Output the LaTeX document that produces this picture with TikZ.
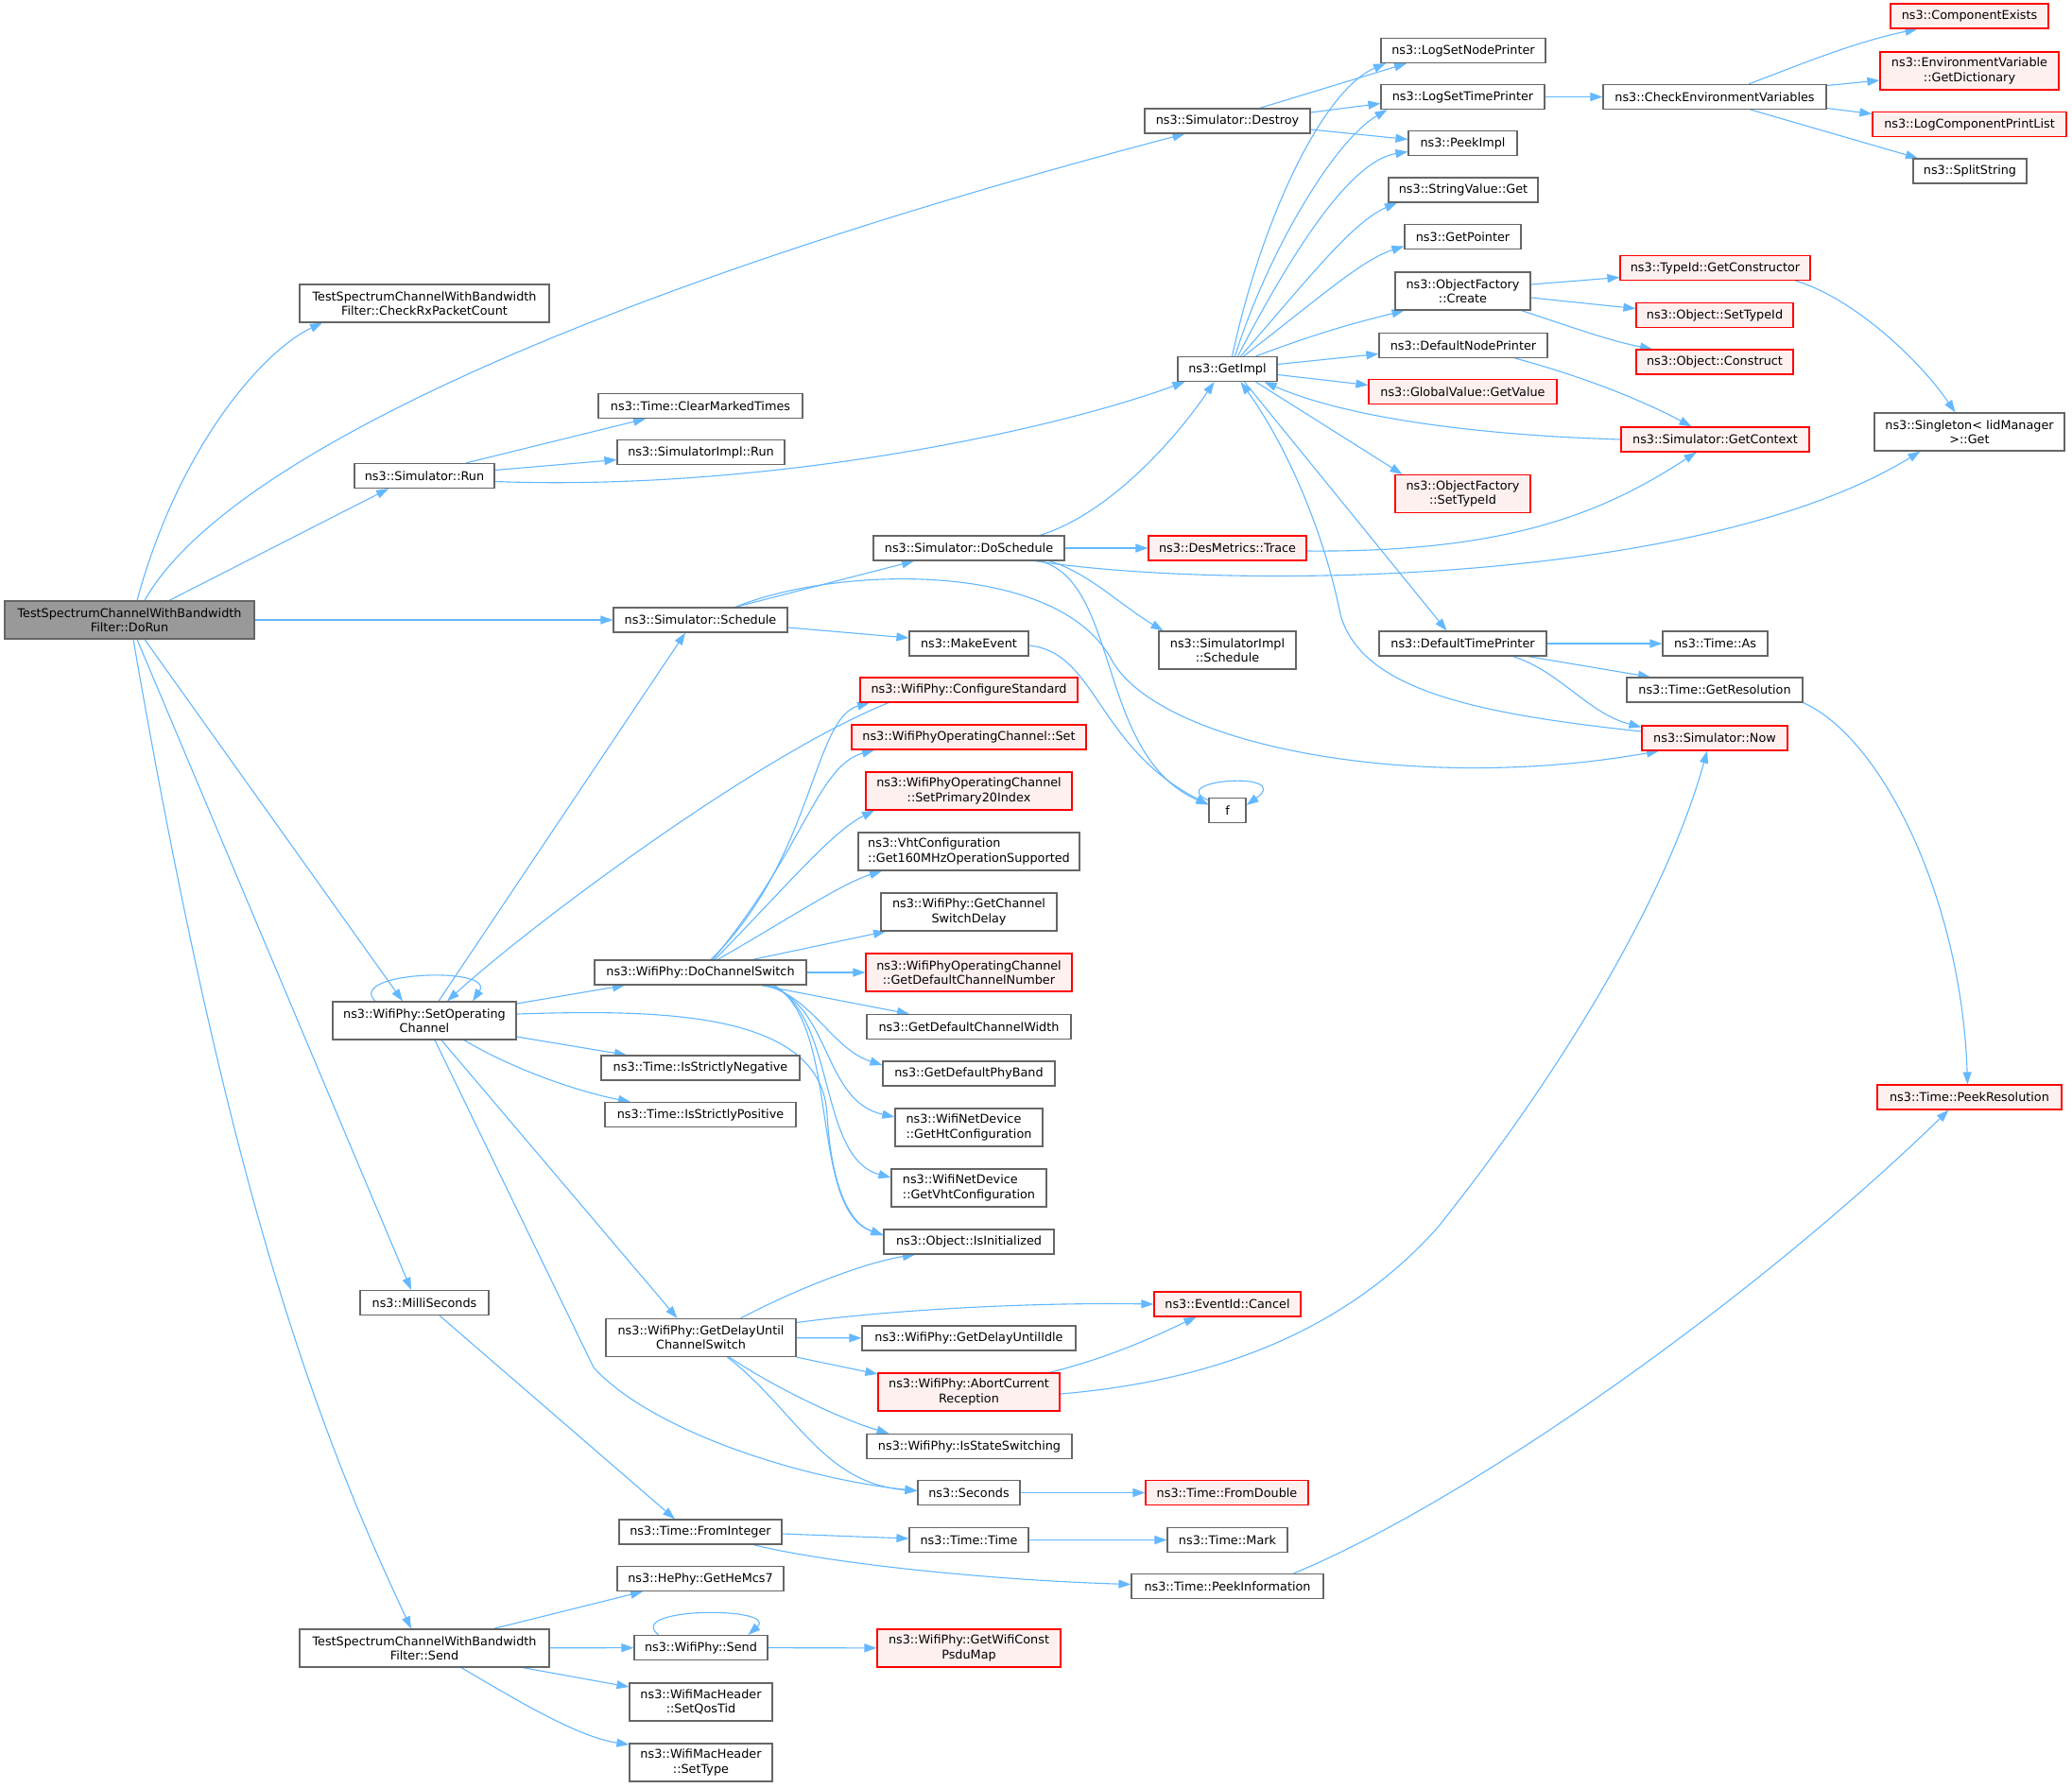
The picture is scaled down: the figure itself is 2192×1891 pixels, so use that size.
\documentclass[tikz,border=0pt]{standalone}
\usepackage{fontspec}
\setmainfont{DejaVu Sans}
\usetikzlibrary{arrows.meta}
\pgfdeclarelayer{bg}
\pgfsetlayers{bg,main}
\definecolor{eblue}{HTML}{63B8FF}
\definecolor{gbd}{HTML}{666666}
\definecolor{rbd}{HTML}{FF0000}
\definecolor{rfill}{HTML}{FFF0F0}
\definecolor{dfill}{HTML}{999999}
\begin{document}
\begin{tikzpicture}[x=1pt,y=-1pt,
  nb/.style={draw=gbd, fill=white, line width=1.2pt, inner sep=0pt, align=center,
     font=\fontsize{12.8pt}{15.2pt}\selectfont, text=black},
  nr/.style={nb, draw=rbd, fill=rfill},
  sa/.style={minimum height=26pt},
  sb/.style={minimum height=40pt},
  edg/.style={draw=eblue, line width=1.1pt, -{Triangle[length=13pt,width=9pt,fill=eblue]}}]
\begin{pgfonlayer}{bg}
\fill[white] (0,0) rectangle (2192,1891);
\end{pgfonlayer}
\useasboundingbox (0,0) rectangle (2192,1891);

% ---- nodes ----
\node[nb,sb,fill=dfill,minimum width=264pt] (dorun) at (137,656) {TestSpectrumChannelWithBandwidth\\Filter::DoRun};
\node[nb,sb,minimum width=264pt] (check) at (449,321) {TestSpectrumChannelWithBandwidth\\Filter::CheckRxPacketCount};
\node[nb,sa,minimum width=175pt] (destroy) at (1298.5,128) {ns3::Simulator::Destroy};
\node[nb,sa,minimum width=148pt] (run) at (449,503.5) {ns3::Simulator::Run};
\node[nb,sa,minimum width=216pt] (clear) at (741,429.5) {ns3::Time::ClearMarkedTimes};
\node[nb,sa,minimum width=177pt] (simrun) at (741.5,478.5) {ns3::SimulatorImpl::Run};
\node[nb,sa,minimum width=105pt] (getimpl) at (1298.5,390.5) {ns3::GetImpl};
\node[nb,sa,minimum width=202pt] (doschedule) at (1025,580) {ns3::Simulator::DoSchedule};
\node[nr,sa,minimum width=167pt] (trace) at (1298.5,580) {ns3::DesMetrics::Trace};
\node[nb,sa,minimum width=184pt] (schedule) at (741,656) {ns3::Simulator::Schedule};
\node[nb,sa,minimum width=126pt] (makeevent) at (1025,681) {ns3::MakeEvent};
\node[nb,sb,minimum width=145pt] (implsched) at (1298.5,688) {ns3::SimulatorImpl\\::Schedule};
\node[nr,sa,minimum width=167pt] (compexists) at (2083.5,17) {ns3::ComponentExists};
\node[nr,sb,minimum width=189pt] (getdict) at (2083.5,75) {ns3::EnvironmentVariable\\::GetDictionary};
\node[nr,sa,minimum width=205pt] (logcomp) at (2083.5,131.5) {ns3::LogComponentPrintList};
\node[nb,sa,minimum width=120pt] (split) at (2084,181) {ns3::SplitString};
\node[nb,sa,minimum width=236pt] (checkenv) at (1814,102.5) {ns3::CheckEnvironmentVariables};
\node[nb,sa,minimum width=174pt] (lognode) at (1548,53.5) {ns3::LogSetNodePrinter};
\node[nb,sa,minimum width=173pt] (logtime) at (1547.5,102.5) {ns3::LogSetTimePrinter};
\node[nb,sa,minimum width=115pt] (peekimpl) at (1547.5,151.5) {ns3::PeekImpl};
\node[nb,sa,minimum width=158pt] (strget) at (1548,201) {ns3::StringValue::Get};
\node[nb,sa,minimum width=123pt] (getptr) at (1547.5,250.5) {ns3::GetPointer};
\node[nb,sb,minimum width=143pt] (ofcreate) at (1547.5,308) {ns3::ObjectFactory\\::Create};
\node[nb,sa,minimum width=178pt] (defnode) at (1548,365.5) {ns3::DefaultNodePrinter};
\node[nr,sa,minimum width=199pt] (gvget) at (1547.5,414.5) {ns3::GlobalValue::GetValue};
\node[nr,sb,minimum width=143pt] (ofsettype) at (1547.5,522.5) {ns3::ObjectFactory\\::SetTypeId};
\node[nr,sa,minimum width=201pt] (getctor) at (1814.5,283.5) {ns3::TypeId::GetConstructor};
\node[nr,sa,minimum width=166pt] (objsettype) at (1814,333.5) {ns3::Object::SetTypeId};
\node[nr,sa,minimum width=166pt] (objconstr) at (1814,383) {ns3::Object::Construct};
\node[nr,sa,minimum width=199pt] (getctx) at (1814.5,465) {ns3::Simulator::GetContext};
\node[nb,sb,minimum width=201pt] (singleton) at (2083.5,457) {ns3::Singleton< IidManager\\>::Get};
\node[nb,sa,minimum width=177pt] (deftime) at (1547.5,681) {ns3::DefaultTimePrinter};
\node[nb,sa,minimum width=111pt] (timeas) at (1814.5,681) {ns3::Time::As};
\node[nb,sa,minimum width=186pt] (getres) at (1814,730) {ns3::Time::GetResolution};
\node[nr,sa,minimum width=154pt] (now) at (1814,781) {ns3::Simulator::Now};
\node[nb,sa,minimum width=39pt] (f) at (1298.5,857.5) {f};
\node[nr,sa,minimum width=195pt] (peekres) at (2083.5,1161) {ns3::Time::PeekResolution};
\node[nb,sb,minimum width=194pt] (setop) at (449,1080) {ns3::WifiPhy::SetOperating\\Channel};
\node[nr,sa,minimum width=230pt] (confstd) at (1025,730) {ns3::WifiPhy::ConfigureStandard};
\node[nr,sa,minimum width=248pt] (opset) at (1025,780) {ns3::WifiPhyOperatingChannel::Set};
\node[nr,sb,minimum width=218pt] (setprim) at (1025,837) {ns3::WifiPhyOperatingChannel\\::SetPrimary20Index};
\node[nb,sb,minimum width=234pt,align=left] (vht160) at (1025,901) {ns3::VhtConfiguration\\::Get160MHzOperationSupported};
\node[nb,sb,minimum width=186pt] (chsw) at (1025,965) {ns3::WifiPhy::GetChannel\\SwitchDelay};
\node[nb,sa,minimum width=224pt] (dochsw) at (741,1029) {ns3::WifiPhy::DoChannelSwitch};
\node[nr,sb,minimum width=218pt] (defchnum) at (1025,1029) {ns3::WifiPhyOperatingChannel\\::GetDefaultChannelNumber};
\node[nb,sa,minimum width=216pt] (defchw) at (1025,1086.5) {ns3::GetDefaultChannelWidth};
\node[nb,sa,minimum width=182pt] (defband) at (1025,1136) {ns3::GetDefaultPhyBand};
\node[nb,sa,minimum width=210pt] (strneg) at (741,1130) {ns3::Time::IsStrictlyNegative};
\node[nb,sa,minimum width=202pt] (strpos) at (741,1179.5) {ns3::Time::IsStrictlyPositive};
\node[nb,sb,minimum width=156pt,align=left] (htconf) at (1025,1193) {ns3::WifiNetDevice\\::GetHtConfiguration};
\node[nb,sb,minimum width=164pt,align=left] (vhtconf) at (1025,1257) {ns3::WifiNetDevice\\::GetVhtConfiguration};
\node[nb,sa,minimum width=180pt] (isinit) at (1025,1314) {ns3::Object::IsInitialized};
\node[nb,sa,minimum width=136pt] (milli) at (449,1378.5) {ns3::MilliSeconds};
\node[nb,sb,minimum width=264pt] (send) at (449,1744) {TestSpectrumChannelWithBandwidth\\Filter::Send};
\node[nb,sb,minimum width=201pt] (delaych) at (741.5,1415.5) {ns3::WifiPhy::GetDelayUntil\\ChannelSwitch};
\node[nb,sa,minimum width=226pt] (delayidle) at (1025,1416) {ns3::WifiPhy::GetDelayUntilIdle};
\node[nr,sb,minimum width=192pt] (abort) at (1025,1473) {ns3::WifiPhy::AbortCurrent\\Reception};
\node[nb,sa,minimum width=217pt] (stsw) at (1025.5,1530.5) {ns3::WifiPhy::IsStateSwitching};
\node[nb,sa,minimum width=108pt] (seconds) at (1025,1579.5) {ns3::Seconds};
\node[nb,sa,minimum width=172pt] (fromint) at (741,1621) {ns3::Time::FromInteger};
\node[nb,sa,minimum width=126pt] (timetime) at (1025,1629.5) {ns3::Time::Time};
\node[nb,sa,minimum width=176pt] (hemcs) at (741,1670.5) {ns3::HePhy::GetHeMcs7};
\node[nb,sa,minimum width=141pt] (wsend) at (741.5,1743.5) {ns3::WifiPhy::Send};
\node[nr,sb,minimum width=194pt] (psdu) at (1025,1744) {ns3::WifiPhy::GetWifiConst\\PsduMap};
\node[nb,sb,minimum width=151pt] (qostid) at (741.5,1801) {ns3::WifiMacHeader\\::SetQosTid};
\node[nb,sb,minimum width=151pt] (settype) at (741.5,1865) {ns3::WifiMacHeader\\::SetType};
\node[nr,sa,minimum width=155pt] (cancel) at (1298.5,1380) {ns3::EventId::Cancel};
\node[nr,sa,minimum width=172pt] (fromdbl) at (1298,1579.5) {ns3::Time::FromDouble};
\node[nb,sa,minimum width=127pt] (mark) at (1298.5,1629.5) {ns3::Time::Mark};
\node[nb,sa,minimum width=203pt] (peekinfo) at (1298.5,1678.5) {ns3::Time::PeekInformation};

% ---- edges ----
\begin{pgfonlayer}{bg}
% DoRun
\draw[edg] ([xshift=8pt]dorun.north) .. controls (190,470) and (280,370) .. ([xshift=-108pt]check.south);
\draw[edg] ([xshift=16pt]dorun.north) .. controls (240,480) and (650,300) .. ([xshift=-45pt]destroy.south);
\draw[edg] ([xshift=42pt]dorun.north) -- ([xshift=-38pt]run.south);
\draw[edg] (dorun) -- (schedule);
\draw[edg] ([xshift=16pt]dorun.south) -- ([xshift=-23pt]setop.north);
\draw[edg] ([xshift=8pt]dorun.south) -- ([xshift=-14pt]milli.north);
\draw[edg] ([xshift=4pt]dorun.south) .. controls (240,1250) and (330,1500) .. ([xshift=-14pt]send.north);
% Destroy
\draw[edg] ([xshift=34pt]destroy.north) -- ([xshift=-60pt]lognode.south);
\draw[edg] ([yshift=9pt]destroy.east) -- ([yshift=-7pt]logtime.west);
\draw[edg] ([yshift=-9pt]destroy.east) -- ([yshift=4pt]peekimpl.west);
% Run
\draw[edg] ([xshift=44pt]run.north) -- ([xshift=-58pt]clear.south);
\draw[edg] ([yshift=6pt]run.east) -- ([yshift=-8pt]simrun.west);
\draw[edg] ([yshift=-6pt]run.east) .. controls (800,520) and (1100,460) .. ([xshift=-45pt]getimpl.south);
% Schedule
\draw[edg] ([xshift=37pt]schedule.north) -- ([xshift=-58pt]doschedule.south);
\draw[edg] ([yshift=-8pt]schedule.east) -- ([yshift=6pt]makeevent.west);
\draw[edg] ([xshift=37pt]schedule.north) .. controls (880,600) and (1120,590) .. (1177,700) .. controls (1230,790) and (1500,840) .. ([xshift=-59pt]now.south);
\draw[edg] ([xshift=15pt]setop.north) -- ([xshift=-16pt]schedule.south);
% DoSchedule
\draw[edg] ([xshift=75pt]doschedule.north) .. controls (1170,545) and (1240,470) .. ([xshift=-14pt]getimpl.south);
\draw[edg] (doschedule) -- (trace);
\draw[edg] ([xshift=70pt]doschedule.south) .. controls (1300,625) and (1800,620) .. ([xshift=-52pt]singleton.south);
\draw[edg] ([xshift=85pt]doschedule.south) .. controls (1150,605) and (1185,640) .. ([xshift=-68pt]implsched.north);
\draw[edg] ([xshift=75pt]doschedule.south) .. controls (1185,615) and (1160,800) .. ([yshift=6pt]f.west);
\draw[edg] ([yshift=-2pt]makeevent.east) .. controls (1160,690) and (1160,790) .. ([yshift=6pt]f.west);
\draw[edg] ([yshift=-3pt]f.north west) .. controls (1230,825) and (1370,815) .. ([yshift=5.5pt]f.east);
% GetImpl
\draw[edg] ([xshift=5pt]getimpl.north) .. controls (1335,230) and (1400,95) .. ([xshift=-82pt]lognode.south);
\draw[edg] ([xshift=8pt]getimpl.north) .. controls (1340,270) and (1410,150) .. ([xshift=-80pt]logtime.south);
\draw[edg] ([xshift=11pt]getimpl.north) .. controls (1370,260) and (1430,170) .. ([yshift=-9pt]peekimpl.west);
\draw[edg] ([xshift=14pt]getimpl.north) .. controls (1380,300) and (1430,235) .. ([xshift=-70pt]strget.south);
\draw[edg] ([xshift=17pt]getimpl.north) .. controls (1390,320) and (1440,275) .. ([yshift=-10pt]getptr.west);
\draw[edg] ([xshift=30pt]getimpl.north) .. controls (1400,350) and (1440,340) .. ([xshift=-62pt]ofcreate.south);
\draw[edg] ([yshift=5pt]getimpl.east) -- ([yshift=-9pt]defnode.west);
\draw[edg] ([yshift=-6pt]getimpl.east) -- ([yshift=7pt]gvget.west);
\draw[edg] ([xshift=30pt]getimpl.south) -- ([xshift=-64pt]ofsettype.north);
\draw[edg] ([xshift=18pt]getimpl.south) -- ([xshift=-17pt]deftime.north);
\draw[edg] (getctx.west) .. controls (1550,460) and (1420,440) .. ([xshift=-14pt]getimpl.south east);
\draw[edg] ([yshift=7pt]now.west) .. controls (1560,755) and (1440,730) .. (1418,650) .. controls (1400,560) and (1360,470) .. ([xshift=14pt]getimpl.south);
% right part
\draw[edg] ([yshift=-3pt]trace.east) .. controls (1600,585) and (1700,540) .. ([xshift=-20pt]getctx.south);
\draw[edg] ([xshift=55pt]defnode.south) .. controls (1680,400) and (1740,425) .. ([xshift=-25pt]getctx.north);
\draw[edg] ([xshift=85pt]getctor.south) .. controls (1960,315) and (2030,380) .. ([xshift=-15pt]singleton.north);
\draw[edg] ([yshift=7pt]ofcreate.east) -- ([yshift=-10pt]getctor.west);
\draw[edg] ([yshift=-7pt]ofcreate.east) -- ([yshift=7pt]objsettype.west);
\draw[edg] ([xshift=62pt]ofcreate.south) .. controls (1660,345) and (1700,360) .. ([xshift=-66pt]objconstr.north);
\draw[edg] (logtime) -- (checkenv);
\draw[edg] ([xshift=36pt]checkenv.north) .. controls (1900,70) and (1960,45) .. ([xshift=-55pt]compexists.south);
\draw[edg] ([yshift=12pt]checkenv.east) -- ([yshift=-10pt]getdict.west);
\draw[edg] ([yshift=-12pt]checkenv.east) -- ([yshift=11pt]logcomp.west);
\draw[edg] ([xshift=38pt]checkenv.south) -- ([xshift=-55pt]split.north);
\draw[edg] (deftime) -- (timeas);
\draw[edg] ([xshift=69pt]deftime.south) -- ([xshift=-68pt]getres.north);
\draw[edg] ([xshift=53pt]deftime.south) .. controls (1650,710) and (1680,755) .. ([yshift=-2pt]now.north west);
\draw[edg] (getres.south east) .. controls (1990,780) and (2075,950) .. ([xshift=-2pt]peekres.north);
\draw[edg] ([xshift=70pt]peekinfo.north) .. controls (1550,1590) and (1850,1380) .. ([xshift=-22pt]peekres.south);
\draw[edg] ([xshift=85pt]abort.north) .. controls (1180,1435) and (1230,1410) .. ([xshift=-33pt]cancel.south);
\draw[edg] ([yshift=-2pt]abort.east) .. controls (1300,1460) and (1430,1400) .. (1520,1300) .. controls (1640,1150) and (1760,960) .. ([xshift=-8pt]now.south);
% SetOperatingChannel
\draw[edg] ([xshift=-52pt]setop.north) .. controls (365,1028) and (525,1022) .. ([xshift=51pt]setop.north);
\draw[edg] ([xshift=-85pt]confstd.south) .. controls (800,800) and (560,980) .. ([xshift=24pt]setop.north);
\draw[edg] ([yshift=18pt]setop.east) -- ([xshift=-80pt]dochsw.south);
\draw[edg] ([yshift=7pt]setop.east) .. controls (700,1068) and (870,1070) .. (875,1180) .. controls (880,1260) and (900,1295) .. ([yshift=7pt]isinit.west);
\draw[edg] ([yshift=-17pt]setop.east) -- ([xshift=-78pt]strneg.north);
\draw[edg] ([xshift=42pt]setop.south) .. controls (540,1130) and (610,1155) .. ([xshift=-74pt]strpos.north);
\draw[edg] ([xshift=18pt]setop.south) -- ([xshift=-25pt]delaych.north);
\draw[edg] ([xshift=11pt]setop.south) -- (628,1447) .. controls (690,1515) and (850,1565) .. ([yshift=2pt]seconds.west);
% DoChannelSwitch
\draw[edg] ([xshift=11pt]dochsw.north) .. controls (860,910) and (860,760) .. ([xshift=-105pt]confstd.south);
\draw[edg] ([xshift=13pt]dochsw.north) .. controls (850,900) and (865,810) .. ([xshift=-100pt]opset.south);
\draw[edg] ([xshift=15pt]dochsw.north) .. controls (830,940) and (880,880) .. ([xshift=-100pt]setprim.south);
\draw[edg] ([xshift=18pt]dochsw.north) .. controls (830,975) and (890,935) .. ([xshift=-92pt]vht160.south);
\draw[edg] ([xshift=55pt]dochsw.north) -- ([xshift=-88pt]chsw.south);
\draw[edg] (dochsw) -- (defchnum);
\draw[edg] ([xshift=64pt]dochsw.south) -- ([xshift=-63pt]defchw.north);
\draw[edg] ([xshift=68pt]dochsw.south) .. controls (860,1055) and (880,1110) .. ([yshift=9pt]defband.west);
\draw[edg] ([xshift=72pt]dochsw.south) .. controls (880,1065) and (870,1165) .. ([yshift=11pt]htconf.west);
\draw[edg] ([xshift=76pt]dochsw.south) .. controls (885,1075) and (865,1225) .. ([yshift=11pt]vhtconf.west);
\draw[edg] ([xshift=78pt]dochsw.south) .. controls (890,1085) and (855,1280) .. ([yshift=7pt]isinit.west);
% GetDelayUntilChannelSwitch
\draw[edg] ([xshift=42pt]delaych.north) .. controls (850,1360) and (920,1335) .. ([xshift=-57pt]isinit.south);
\draw[edg] ([yshift=16pt]delaych.east) .. controls (950,1385) and (1100,1378) .. (cancel.west);
\draw[edg] (delaych) -- (delayidle);
\draw[edg] (delaych.south east) -- ([yshift=19pt]abort.west);
\draw[edg] ([xshift=30pt]delaych.south) .. controls (830,1475) and (900,1505) .. ([xshift=-85pt]stsw.north);
\draw[edg] ([xshift=28pt]delaych.south) .. controls (840,1490) and (870,1570) .. ([yshift=2pt]seconds.west);
% bottom
\draw[edg] ([xshift=16pt]milli.south) -- ([xshift=-27pt]fromint.north);
\draw[edg] ([yshift=-2pt]fromint.east) -- ([yshift=1.5pt]timetime.west);
\draw[edg] ([xshift=56pt]fromint.south) .. controls (880,1655) and (1050,1672) .. ([yshift=2pt]peekinfo.west);
\draw[edg] (timetime) -- (mark);
\draw[edg] (seconds) -- (fromdbl);
\draw[edg] ([xshift=73pt]send.north) -- ([xshift=-61pt]hemcs.south);
\draw[edg] (send) -- (wsend);
\draw[edg] ([xshift=104pt]send.south) -- ([yshift=16pt]qostid.west);
\draw[edg] ([xshift=39pt]send.south) .. controls (540,1795) and (610,1838) .. ([yshift=19pt]settype.west);
\draw[edg] ([xshift=-45pt]wsend.north) .. controls (660,1700) and (825,1700) .. ([xshift=50pt]wsend.north);
\draw[edg] (wsend) -- (psdu);
\end{pgfonlayer}
\end{tikzpicture}
\end{document}
